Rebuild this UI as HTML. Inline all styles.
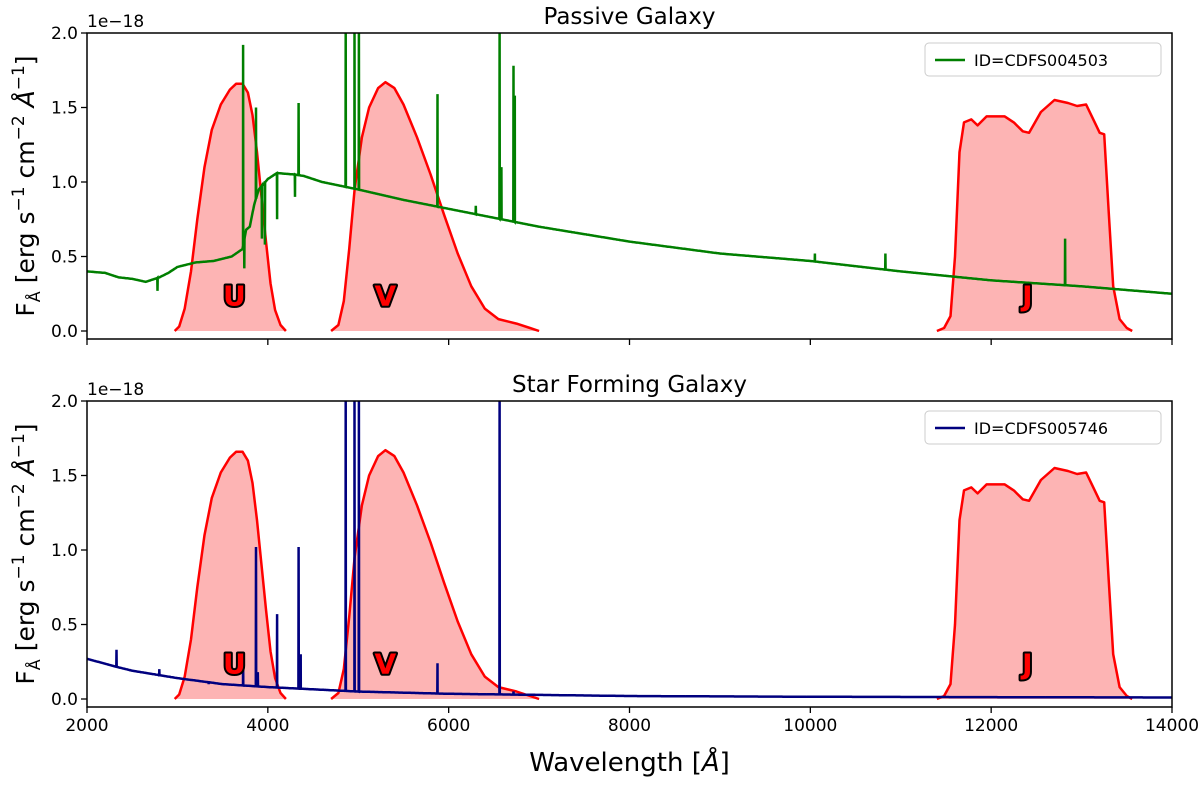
<!DOCTYPE html>
<html><head><meta charset="utf-8"><style>
body{margin:0;background:#fff}
svg text{font-family:"DejaVu Sans","Liberation Sans",sans-serif}
</style></head><body>
<svg id="c" width="1200" height="780" xmlns="http://www.w3.org/2000/svg"></svg>
<script>
const xTicks=[2000,4000,6000,8000,10000,12000,14000];
const yTicks=[0.0,0.5,1.0,1.5,2.0];
const filterU=[[2970,0],[3020,0.03],[3080,0.15],[3150,0.4],[3220,0.75],[3300,1.1],[3380,1.35],[3480,1.52],[3580,1.62],[3650,1.66],[3720,1.66],[3780,1.6],[3830,1.45],[3880,1.2],[3930,0.9],[3980,0.6],[4030,0.32],[4080,0.14],[4140,0.04],[4200,0]];
const filterV=[[4700,0],[4780,0.04],[4840,0.2],[4900,0.55],[4960,0.95],[5040,1.3],[5120,1.5],[5220,1.63],[5300,1.67],[5400,1.63],[5500,1.52],[5650,1.3],[5800,1.05],[5950,0.78],[6100,0.52],[6250,0.3],[6400,0.15],[6550,0.08],[6750,0.05],[6900,0.02],[7000,0.0]];
const filterJ=[[11400,0],[11480,0.02],[11550,0.1],[11600,0.5],[11650,1.2],[11700,1.4],[11780,1.42],[11850,1.38],[11950,1.44],[12150,1.44],[12250,1.4],[12350,1.34],[12420,1.33],[12550,1.47],[12700,1.55],[12850,1.53],[12950,1.51],[13050,1.52],[13130,1.42],[13200,1.33],[13250,1.32],[13300,0.8],[13350,0.3],[13420,0.08],[13500,0.02],[13560,0]];
const passCont=[[2000,0.40],[2200,0.39],[2350,0.36],[2500,0.35],[2650,0.33],[2800,0.36],[2900,0.39],[3000,0.43],[3200,0.46],[3400,0.47],[3600,0.50],[3720,0.55],[3760,0.68],[3800,0.7],[3850,0.85],[3900,0.95],[4000,1.02],[4100,1.06],[4300,1.05],[4400,1.04],[4600,1.0],[5000,0.95],[5500,0.88],[6000,0.82],[6500,0.76],[7000,0.70],[8000,0.60],[9000,0.52],[10000,0.47],[11000,0.40],[12000,0.34],[13000,0.30],[14000,0.25]];
const passLinesW=[2780,3727,3740,3869,3934,3968,4102,4300,4340,4861,4959,5007,5876,6300,6563,6583,6717,6731,10050,10830,12818];
const passLinesF=[0.27,1.92,0.42,1.5,0.62,0.58,0.75,0.9,1.53,2.05,2.05,2.05,1.59,0.84,2.05,1.1,1.78,1.58,0.52,0.52,0.62];
const sfCont=[[2000,0.27],[2300,0.22],[2500,0.19],[3000,0.14],[3500,0.10],[4000,0.08],[5000,0.05],[6000,0.035],[8000,0.02],[10000,0.015],[14000,0.01]];
const sfLinesW=[2326,2470,2800,3346,3727,3869,3889,4102,4340,4363,4861,4959,5007,5876,6563,6717];
const sfLinesF=[0.33,0.2,0.2,0.1,0.3,1.02,0.18,0.57,1.02,0.3,2.05,2.05,2.05,0.24,2.05,0.05];
const NS="http://www.w3.org/2000/svg";const svg=document.getElementById('c');
const X0=87,X1=1172;
function xs(w){return X0+(w-2000)*(X1-X0)/12000;}
function mk(t,a,txt){const e=document.createElementNS(NS,t);for(const k in a)e.setAttribute(k,a[k]);if(txt!=null)e.textContent=txt;svg.appendChild(e);return e;}
function interp(c,w){for(let i=1;i<c.length;i++)if(w<=c[i][0]){const t=(w-c[i-1][0])/(c[i][0]-c[i-1][0]);return c[i-1][1]+t*(c[i][1]-c[i-1][1]);}return c[c.length-1][1];}
function spec(c,lw,lf){const pts=[];let li=0;const order=lw.map((w,i)=>i).sort((a,b)=>lw[a]-lw[b]);
 for(let w=2000;w<=14000;w+=8){while(li<order.length&&lw[order[li]]<w){const k=order[li];const b=interp(c,lw[k]);pts.push([lw[k]-2,b],[lw[k],lf[k]],[lw[k]+2,b]);li++;}pts.push([w,interp(c,w)]);}return pts;}
function panel(top,bot,zeroY,title,pts,color,id,nm){
 const ys=v=>zeroY-149*v;
 mk('defs',{}).innerHTML=`<clipPath id="cl${nm}"><rect x="${X0}" y="${top}" width="${X1-X0}" height="${bot-top}"/></clipPath>`;
 const g=mk('g',{'clip-path':`url(#cl${nm})`});
 
 [[filterU,'U',3630],[filterV,'V',5300],[filterJ,'J',12400]].forEach(([f,l,lx])=>{
  const d=f.map((p,i)=>(i?'L':'M')+xs(p[0]).toFixed(1)+','+ys(p[1]).toFixed(1)).join('');
  const a=document.createElementNS(NS,'path');a.setAttribute('d',d+'Z');a.setAttribute('fill','#fdb4b4');g.appendChild(a);
  
  const b=document.createElementNS(NS,'path');b.setAttribute('d',d);b.setAttribute('fill','none');b.setAttribute('stroke','#ff0000');b.setAttribute('stroke-width','2.5');b.setAttribute('stroke-linejoin','round');g.appendChild(b);
  
  const t=mk('text',{x:xs(lx),y:ys(0.17),'text-anchor':'middle','font-size':28,'font-weight':'bold',fill:'#ff0000',stroke:'#000','stroke-width':4,'paint-order':'stroke','stroke-linejoin':'round'},l);
  
 });
 const s=document.createElementNS(NS,'polyline');s.setAttribute('points',pts.map(p=>xs(p[0]).toFixed(1)+','+ys(p[1]).toFixed(1)).join(' '));
 s.setAttribute('fill','none');s.setAttribute('stroke',color);s.setAttribute('stroke-width','2.5');g.appendChild(s);
 
 const fr=mk('rect',{x:X0,y:top,width:X1-X0,height:bot-top,fill:'none',stroke:'#000','stroke-width':1.5});
 
 yTicks.forEach(v=>{mk('line',{x1:X0-6,x2:X0,y1:ys(v),y2:ys(v),stroke:'#000','stroke-width':1.3});
  const t=mk('text',{x:X0-9,y:ys(v)+6,'text-anchor':'end','font-size':17},v.toFixed(1));});
 xTicks.forEach(w=>mk('line',{x1:xs(w),x2:xs(w),y1:bot,y2:bot+6,stroke:'#000','stroke-width':1.3}));
 const e=mk('text',{x:X0,y:top-6,'font-size':17},'1e\u221218');
 const tt=mk('text',{x:(X0+X1)/2,y:top-9,'text-anchor':'middle','font-size':23},title);
 const yl=mk('text',{transform:`translate(34,${(top+bot)/2}) rotate(-90)`,'text-anchor':'middle','font-size':25},'');
 yl.innerHTML='F<tspan font-size="16" dy="6">Å</tspan><tspan dy="-6"> [erg s</tspan><tspan font-size="17" dy="-10">−1</tspan><tspan dy="10"> cm</tspan><tspan font-size="17" dy="-10">−2</tspan><tspan dy="10"> </tspan><tspan font-style="italic">Å</tspan><tspan font-size="17" dy="-10">−1</tspan><tspan dy="10">]</tspan>';
 
 const lg=mk('rect',{x:925,y:top+10,width:236,height:33,rx:4,fill:'#fff',stroke:'#ccc'});
 mk('line',{x1:935,x2:965,y1:top+27,y2:top+27,stroke:color,'stroke-width':2.5});
 const lt=mk('text',{x:974,y:top+33,'font-size':16},id);
}
panel(33,339,331,'Passive Galaxy',spec(passCont,passLinesW,passLinesF),'#007f00','ID=CDFS004503','passive');
panel(401,707,699,'Star Forming Galaxy',spec(sfCont,sfLinesW,sfLinesF),'#00007f','ID=CDFS005746','starforming');
xTicks.forEach(w=>{const t=mk('text',{x:xs(w),y:731,'text-anchor':'middle','font-size':17},String(w));});
const xl=mk('text',{x:(X0+X1)/2,y:771,'text-anchor':'middle','font-size':26},'');xl.innerHTML='Wavelength [<tspan font-style="italic">Å</tspan>]';

</script>
</body></html>
